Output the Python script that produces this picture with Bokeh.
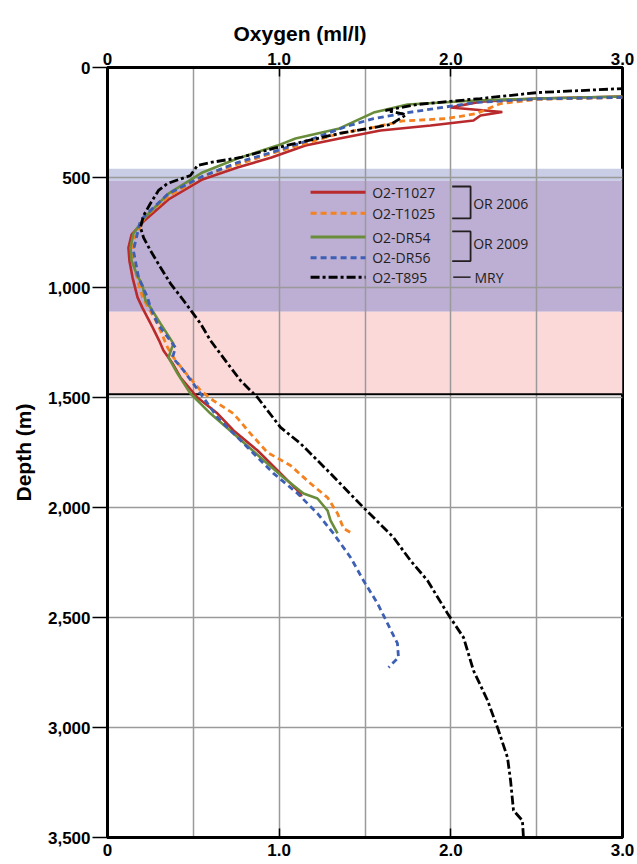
from bokeh.plotting import figure
from bokeh.models import (LinearAxis, FixedTicker, Grid, Span, Title, Range1d,
                          NumeralTickFormatter)
from bokeh.core.properties import value
from bokeh.embed import file_html
from bokeh.resources import INLINE

# ---------------- data (oxygen ml/l, depth m) ----------------
t1027_o2 = [3.0, 2.505, 2.173, 1.998, 2.30, 2.173, 2.132, 1.882, 1.59, 1.351, 1.153, 0.955, 0.757, 0.553,
            0.355, 0.216, 0.14, 0.122, 0.128, 0.146, 0.175, 0.205, 0.262, 0.30, 0.326, 0.379, 0.425,
            0.524, 0.641, 0.734, 0.874, 1.008, 1.124, 1.13]
t1027_depth = [132, 141, 155, 182, 202, 218, 241, 264, 286, 323, 355, 409, 455, 509,
               600, 695, 760, 820, 880, 955, 1045, 1095, 1180, 1240, 1286, 1345, 1409,
               1500, 1573, 1650, 1741, 1845, 1936, 1950]

t1025_o2 = [3.0, 2.505, 2.29, 2.15, 1.98, 1.72, 1.55, 1.351, 1.153, 0.955, 0.757, 0.553, 0.355, 0.216,
            0.151, 0.146, 0.181, 0.204, 0.291, 0.35, 0.384, 0.443, 0.542, 0.617, 0.734, 0.833,
            0.932, 1.066, 1.183, 1.282, 1.34, 1.375, 1.427]
t1025_depth = [136, 145, 164, 209, 232, 243, 272, 300, 345, 391, 441, 495, 586, 682,
               786, 877, 982, 1045, 1164, 1273, 1318, 1377, 1468, 1514, 1573, 1664,
               1750, 1809, 1891, 1955, 2027, 2095, 2118]

dr54_o2 = [3.0, 2.505, 2.144, 1.748, 1.55, 1.351, 1.095, 0.99, 0.757, 0.553, 0.355, 0.216, 0.151,
           0.134, 0.14, 0.17, 0.204, 0.221, 0.25, 0.309, 0.384, 0.355, 0.408, 0.483, 0.6, 0.734,
           0.891, 1.025, 1.142, 1.223, 1.282, 1.299, 1.34]
dr54_depth = [132, 141, 150, 168, 205, 277, 323, 355, 414, 477, 573, 682, 755,
              818, 877, 940, 990, 1059, 1091, 1164, 1255, 1318, 1391, 1482, 1573, 1664,
              1773, 1864, 1936, 1959, 2014, 2059, 2118]

dr56_o2 = [3.0, 2.505, 2.144, 1.748, 1.55, 1.392, 1.153, 0.955, 0.757, 0.553, 0.355, 0.25, 0.192,
           0.151, 0.181, 0.233, 0.25, 0.291, 0.396, 0.379, 0.443, 0.542, 0.641, 0.816, 0.967,
           1.107, 1.223, 1.316, 1.416, 1.491, 1.573, 1.631, 1.689, 1.695, 1.637]
dr56_depth = [136, 143, 159, 205, 232, 268, 336, 386, 432, 495, 573, 650, 695,
              832, 955, 1045, 1091, 1164, 1273, 1318, 1377, 1482, 1591, 1727, 1845,
              1936, 2027, 2118, 2227, 2332, 2436, 2527, 2618, 2682, 2727]

t895_o2 = [3.02, 2.505, 2.173, 1.806, 1.62, 1.74, 1.65, 1.351, 0.967, 0.775, 0.6, 0.524, 0.483, 0.35,
           0.297, 0.25, 0.21, 0.192, 0.21, 0.25, 0.309, 0.367, 0.443, 0.542, 0.6, 0.699, 0.775,
           0.874, 1.008, 1.124, 1.282, 1.491, 1.666, 1.765, 1.864, 1.981, 2.074, 2.132, 2.214,
           2.278, 2.33, 2.348, 2.365, 2.417, 2.423]
t895_depth = [95, 114, 141, 168, 195, 214, 259, 300, 368, 409, 432, 445, 491, 527,
              559, 618, 673, 727, 773, 832, 909, 982, 1059, 1164, 1241, 1345, 1423,
              1500, 1636, 1709, 1832, 2000, 2136, 2241, 2332, 2482, 2591, 2741, 2877,
              3014, 3136, 3241, 3377, 3423, 3500]

# shaded depth zones
band_top = [460, 515, 1110]
band_bottom = [515, 1110, 1485]
band_colors = ["#c9cde6", "#bdaed3", "#fbd9d9"]
zone_line_depth = 1485

depth_ticks = [0, 500, 1000, 1500, 2000, 2500, 3000, 3500]
oxy_ticks = [0, 1, 2, 3]
oxy_grid = [0.5, 1.0, 1.5, 2.0, 2.5]
depth_grid = [500, 1000, 1500, 2000, 2500, 3000]

series = [
    ("O2-T1027", t1027_o2, t1027_depth, "#b82a2c", None),
    ("O2-T1025", t1025_o2, t1025_depth, "#f58220", "6 4"),
    ("O2-DR54", dr54_o2, dr54_depth, "#6a8d3b", None),
    ("O2-DR56", dr56_o2, dr56_depth, "#3d5fb4", "6 4"),
    ("O2-T895", t895_o2, t895_depth, "#000000", "9 3 3 3"),
]

legend_depths = [567, 662, 771, 865, 953]
group_labels = ["OR 2006", "OR 2009"]
group_top = [541, 745]
group_bottom = [686, 880]
group_mid = [618, 800]

# ---------------- figure ----------------
AXFONT = "Liberation Sans Narrow, Liberation Sans, sans-serif"
p = figure(width=637, height=864, output_backend="svg", toolbar_location=None,
           x_range=Range1d(0, 3), y_range=Range1d(3500, 0),
           x_axis_type=None, y_axis_type=None,
           min_border_left=107, min_border_right=15, min_border_top=67, min_border_bottom=27)
p.outline_line_color = "black"
p.outline_line_width = 3
p.background_fill_color = "white"
p.border_fill_color = "white"

# bands
p.quad(left=0, right=3, top=band_top, bottom=band_bottom, fill_color=band_colors,
       line_color=None, level="image")

# grids
p.add_layout(Grid(dimension=0, ticker=FixedTicker(ticks=oxy_grid), grid_line_color="#9a9a9a",
                  grid_line_width=1.5, level="underlay"))
p.add_layout(Grid(dimension=1, ticker=FixedTicker(ticks=depth_grid), grid_line_color="#9a9a9a",
                  grid_line_width=1.5, level="underlay"))

p.add_layout(Span(location=zone_line_depth, dimension="width", line_color="black",
                  line_width=2, level="underlay"))

# axes
def style_axis(ax):
    ax.axis_line_width = 3
    ax.axis_line_color = "black"
    ax.major_tick_line_width = 1.5
    ax.major_tick_line_color = "black"
    ax.minor_tick_line_color = None
    ax.major_label_text_font = AXFONT
    ax.major_label_text_font_style = "bold"
    ax.major_label_text_font_size = "17px"
    ax.major_label_text_color = "black"

left = LinearAxis(ticker=FixedTicker(ticks=depth_ticks),
                  formatter=NumeralTickFormatter(format="0,0"),
                  axis_label="Depth (m)")
style_axis(left)
left.major_tick_out = 15
left.major_tick_in = 0
left.major_label_standoff = 2
left.axis_label_text_font = AXFONT
left.axis_label_text_font_style = "bold"
left.axis_label_text_font_size = "21px"
left.axis_label_text_color = "black"
left.axis_label_standoff = 10
p.add_layout(left, "left")

for loc in ("above", "below"):
    ax = LinearAxis(ticker=FixedTicker(ticks=oxy_ticks),
                    formatter=NumeralTickFormatter(format="0.0"),
                    major_label_overrides={0: "0"})
    style_axis(ax)
    ax.major_tick_in = 9
    ax.major_tick_out = 0
    ax.major_label_standoff = 3 if loc == "above" else 6
    p.add_layout(ax, loc)

p.add_layout(Title(text="Oxygen (ml/l)", align="left", offset=126,
                   text_font=AXFONT, text_font_style="bold", text_font_size="21px",
                   text_color="black"), "above")

# curves
for name, xs, ys, col, dash in series:
    kw = dict(line_color=col, line_width=2.6 if dash is None else 2.8)
    if dash:
        kw["line_dash"] = dash
    p.line(xs, ys, **kw)

# manual legend
LFONT = value("Open Sans")
for (name, xs, ys, col, dash), d in zip(series, legend_depths):
    kw = dict(line_color=col, line_width=3)
    if dash:
        kw["line_dash"] = dash
    p.line([1.183, 1.503], [d, d], **kw)
    p.text(x=[1.542], y=[d], text=[name], text_font=LFONT, text_font_size="14px",
           text_baseline="middle", text_color="#231f20")

for lab, t, b, m in zip(group_labels, group_top, group_bottom, group_mid):
    p.line([2.008, 2.115, 2.115, 2.008], [t, t, b, b], line_color="#231f20", line_width=1.8)
    p.text(x=[2.13], y=[m], text=[lab], text_font=LFONT, text_font_size="14px",
           text_baseline="middle", text_color="#231f20")

p.line([2.014, 2.115], [legend_depths[4], legend_depths[4]], line_color="#231f20", line_width=1.5)
p.text(x=[2.138], y=[legend_depths[4]], text=["MRY"], text_font=LFONT, text_font_size="14px",
       text_baseline="middle", text_color="#231f20")

open("out.html", "w").write(file_html(p, INLINE))
